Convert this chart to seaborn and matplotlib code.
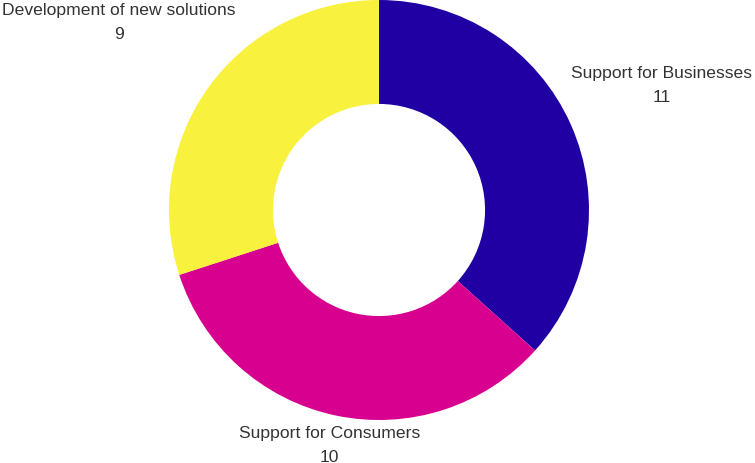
import numpy as np
import matplotlib
matplotlib.use("Agg")
import matplotlib.pyplot as plt
import seaborn as sns

categories = ["Support for Businesses", "Support for Consumers", "Development of new solutions"]
values = [11, 10, 9]
colors = ["#2000A2", "#D8008F", "#F8F13D"]

sns.set_style("white")
plt.rcParams['font.family'] = ['Liberation Sans', 'DejaVu Sans']

W, H = 755, 464
fig = plt.figure(figsize=(W / 100, H / 100), dpi=100)
ax = fig.add_axes([0, 0, 1, 1])

cx, cy, R = 379, H - 211, 210
wedges, _ = ax.pie(values, colors=colors, startangle=90, counterclock=False,
                   center=(cx, cy), radius=R, frame=True,
                   wedgeprops=dict(width=R * 0.495, linewidth=0))
ax.set_xlim(0, W)
ax.set_ylim(0, H)
ax.set_aspect('equal')
ax.axis('off')

label_dist = [1.475, 1.14, 1.53]
for w, cat, v, d in zip(wedges, categories, values, label_dist):
    th = np.deg2rad((w.theta1 + w.theta2) / 2)
    x = cx + R * d * np.cos(th)
    y = cy + R * d * np.sin(th)
    ax.text(x, y + 11.5, cat, ha='center', va='center', fontsize=12.6, color='#333333')
    ax.text(x, y - 12, str(v), ha='center', va='center', fontsize=12.6, color='#333333')

fig.savefig("out.png", dpi=100)
